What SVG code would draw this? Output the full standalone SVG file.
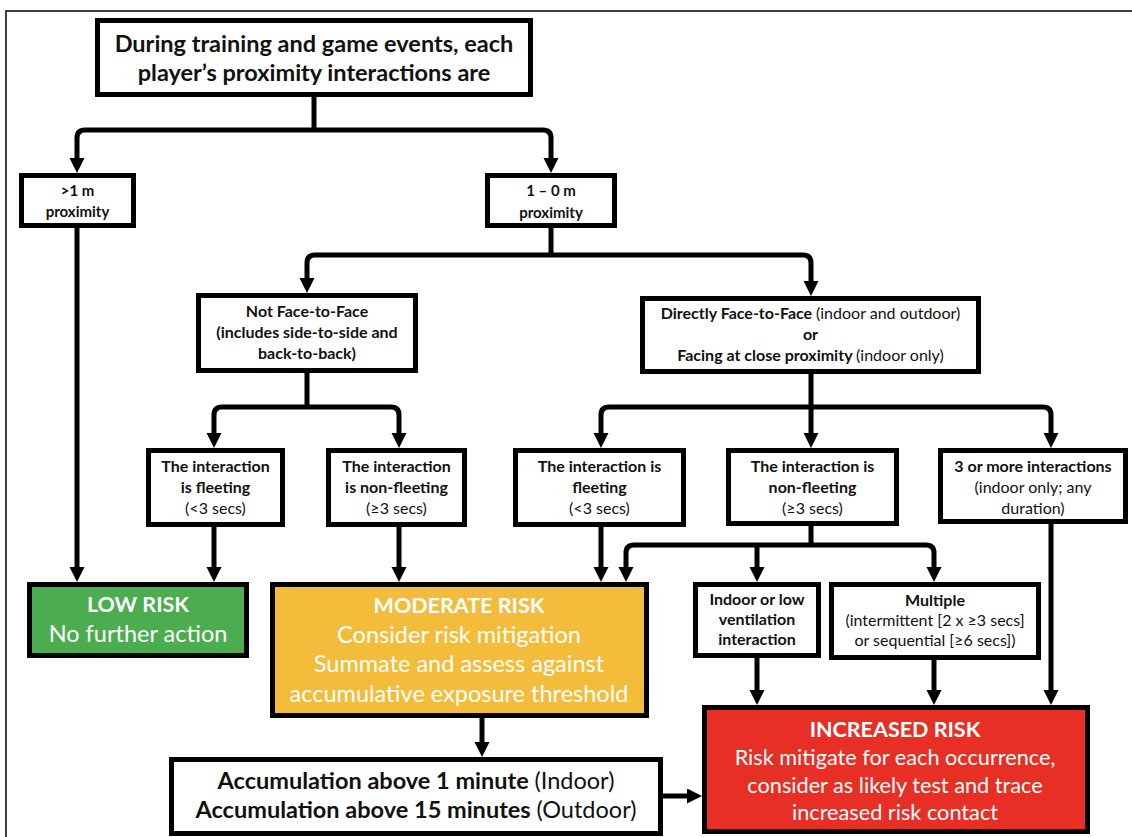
<svg xmlns="http://www.w3.org/2000/svg" width="1132" height="837" viewBox="0 0 1132 837">
  <style>
    .box { fill: #ffffff; stroke: #000000; stroke-width: 5; }
    .low { fill: #4cad50; stroke: #000000; stroke-width: 5; }
    .mod { fill: #f3bd3b; stroke: #000000; stroke-width: 5; }
    .inc { fill: #e82f25; stroke: #000000; stroke-width: 5; }
    .frame { fill: none; stroke: #000000; stroke-width: 1.5; }
    .conn path { fill: none; stroke: #000000; stroke-width: 5; marker-end: url(#arrow); }
    .conn path.plain { marker-end: none; }
    text { font-family: Lato, "Open Sans", "Liberation Sans", sans-serif; text-anchor: middle; fill: #111111; }
    .t-top { font-size: 23.5px; font-weight: 700; }
    .t-prox { font-size: 15px; font-weight: 700; }
    .t-mid { font-size: 16px; font-weight: 700; }
    .n { font-weight: 400; }
    .t-head { font-size: 21.5px; font-weight: 700; fill: #ffffff; }
    .t-body { font-size: 23.5px; fill: #ffffff; }
    .t-red { font-size: 21.7px; fill: #ffffff; }
    .t-acc { font-size: 23.5px; font-weight: 700; }
  </style>
  <defs>
    <marker id="arrow" markerUnits="userSpaceOnUse" markerWidth="16" markerHeight="16" refX="5" refY="7.5" orient="auto">
      <path d="M0,0 L15,7.5 L0,15 Z" fill="#000000"/>
    </marker>
  </defs>

  <rect class="frame" x="6" y="11" width="1140" height="840"/>

  <!-- connectors -->
  <g id="connectors" class="conn">
    <path class="plain" d="M314,96 V130"/>
    <path d="M314,130 H85 Q77,130 77,138 V163"/>
    <path d="M314,130 H543 Q551,130 551,138 V163"/>

    <path class="plain" d="M551,228 V255"/>
    <path d="M551,255 H315 Q307,255 307,263 V283"/>
    <path d="M551,255 H803 Q811,255 811,263 V286"/>

    <path class="plain" d="M307,373 V407"/>
    <path d="M307,407 H222 Q214,407 214,415 V438"/>
    <path d="M307,407 H391 Q399,407 399,415 V438"/>

    <path class="plain" d="M811,374 V407"/>
    <path d="M811,407 H609 Q601,407 601,415 V438"/>
    <path d="M811,407 V438"/>
    <path d="M811,407 H1043 Q1051,407 1051,415 V438"/>

    <path d="M77,228 V572"/>
    <path d="M214,527 V572"/>
    <path d="M399,527 V572"/>
    <path d="M601,527 V572"/>

    <path class="plain" d="M811,526 V545"/>
    <path d="M811,545 H634 Q626,545 626,553 V572"/>
    <path d="M757,545 V572"/>
    <path d="M811,545 H926 Q934,545 934,553 V572"/>

    <path d="M757,658 V695"/>
    <path d="M934,660 V695"/>
    <path d="M1051,524 V695"/>

    <path d="M482,718 V747"/>
    <path d="M663,796 H692"/>
  </g>

  <!-- nodes -->
  <g id="start">
    <rect class="box" x="97.5" y="20.5" width="433" height="74"/>
    <text class="t-top" x="314" y="52">During training and game events, each</text>
    <text class="t-top" x="314" y="81">player’s proximity interactions are</text>
  </g>

  <g id="far">
    <rect class="box" x="21.5" y="175.5" width="112" height="50"/>
    <text class="t-prox" x="77.5" y="196">&gt;1 m</text>
    <text class="t-prox" x="77.5" y="217">proximity</text>
  </g>

  <g id="near">
    <rect class="box" x="487.5" y="175.5" width="127" height="50"/>
    <text class="t-prox" x="551" y="196">1 – 0 m</text>
    <text class="t-prox" x="551" y="218">proximity</text>
  </g>

  <g id="not-face">
    <rect class="box" x="198.5" y="295.5" width="217" height="75"/>
    <text class="t-mid" x="307" y="317">Not Face-to-Face</text>
    <text class="t-mid" x="307" y="338">(includes side-to-side and</text>
    <text class="t-mid" x="307" y="359">back-to-back)</text>
  </g>

  <g id="face">
    <rect class="box" x="642.5" y="298.5" width="336" height="73"/>
    <text class="t-mid" x="810.5" y="319">Directly Face-to-Face <tspan class="n">(indoor and outdoor)</tspan></text>
    <text class="t-mid" x="810.5" y="340">or</text>
    <text class="t-mid" x="810.5" y="361">Facing at close proximity <tspan class="n">(indoor only)</tspan></text>
  </g>

  <g id="nf-fleeting">
    <rect class="box" x="148.5" y="450.5" width="134" height="74"/>
    <text class="t-mid" x="215.5" y="472">The interaction</text>
    <text class="t-mid" x="215.5" y="493">is fleeting</text>
    <text class="t-mid n" x="215.5" y="514">(&lt;3 secs)</text>
  </g>

  <g id="nf-nonfleeting">
    <rect class="box" x="328.5" y="450.5" width="136" height="74"/>
    <text class="t-mid" x="396.5" y="472">The interaction</text>
    <text class="t-mid" x="396.5" y="493">is non-fleeting</text>
    <text class="t-mid n" x="396.5" y="514">(≥3 secs)</text>
  </g>

  <g id="f-fleeting">
    <rect class="box" x="515.5" y="450.5" width="168" height="74"/>
    <text class="t-mid" x="599.5" y="472">The interaction is</text>
    <text class="t-mid" x="599.5" y="493">fleeting</text>
    <text class="t-mid n" x="599.5" y="514">(&lt;3 secs)</text>
  </g>

  <g id="f-nonfleeting">
    <rect class="box" x="728.5" y="450.5" width="168" height="73"/>
    <text class="t-mid" x="812.5" y="472">The interaction is</text>
    <text class="t-mid" x="812.5" y="493">non-fleeting</text>
    <text class="t-mid n" x="812.5" y="514">(≥3 secs)</text>
  </g>

  <g id="f-multiple3">
    <rect class="box" x="940.5" y="450.5" width="185" height="71"/>
    <text class="t-mid" x="1033" y="472">3 or more interactions</text>
    <text class="t-mid n" x="1033" y="493">(indoor only; any</text>
    <text class="t-mid n" x="1033" y="514">duration)</text>
  </g>

  <g id="low-risk">
    <rect class="low" x="29.5" y="584.5" width="217" height="71"/>
    <text class="t-head" x="138" y="612">LOW RISK</text>
    <text class="t-body" x="138" y="642">No further action</text>
  </g>

  <g id="moderate-risk">
    <rect class="mod" x="272.5" y="584.5" width="374" height="131"/>
    <text class="t-head" x="459" y="613">MODERATE RISK</text>
    <text class="t-body" x="459" y="643">Consider risk mitigation</text>
    <text class="t-body" x="459" y="672">Summate and assess against</text>
    <text class="t-body" x="459" y="702">accumulative exposure threshold</text>
  </g>

  <g id="indoor">
    <rect class="box" x="695.5" y="584.5" width="123" height="71"/>
    <text class="t-mid" x="757" y="605">Indoor or low</text>
    <text class="t-mid" x="757" y="625">ventilation</text>
    <text class="t-mid" x="757" y="645">interaction</text>
  </g>

  <g id="multiple">
    <rect class="box" x="831.5" y="584.5" width="207" height="73"/>
    <text class="t-mid" x="935" y="606">Multiple</text>
    <text class="t-mid n" x="935" y="626">(intermittent [2 x ≥3 secs]</text>
    <text class="t-mid n" x="935" y="646">or sequential [≥6 secs])</text>
  </g>

  <g id="increased-risk">
    <rect class="inc" x="704.5" y="707.5" width="383" height="124"/>
    <text class="t-head" x="895" y="737">INCREASED RISK</text>
    <text class="t-red" x="895" y="765">Risk mitigate for each occurrence,</text>
    <text class="t-red" x="895" y="793">consider as likely test and trace</text>
    <text class="t-red" x="895" y="820">increased risk contact</text>
  </g>

  <g id="accumulation">
    <rect class="box" x="171.5" y="759.5" width="489" height="74"/>
    <text class="t-acc" x="416" y="789">Accumulation above 1 minute <tspan class="n">(Indoor)</tspan></text>
    <text class="t-acc" x="416" y="818">Accumulation above 15 minutes <tspan class="n">(Outdoor)</tspan></text>
  </g>
</svg>
